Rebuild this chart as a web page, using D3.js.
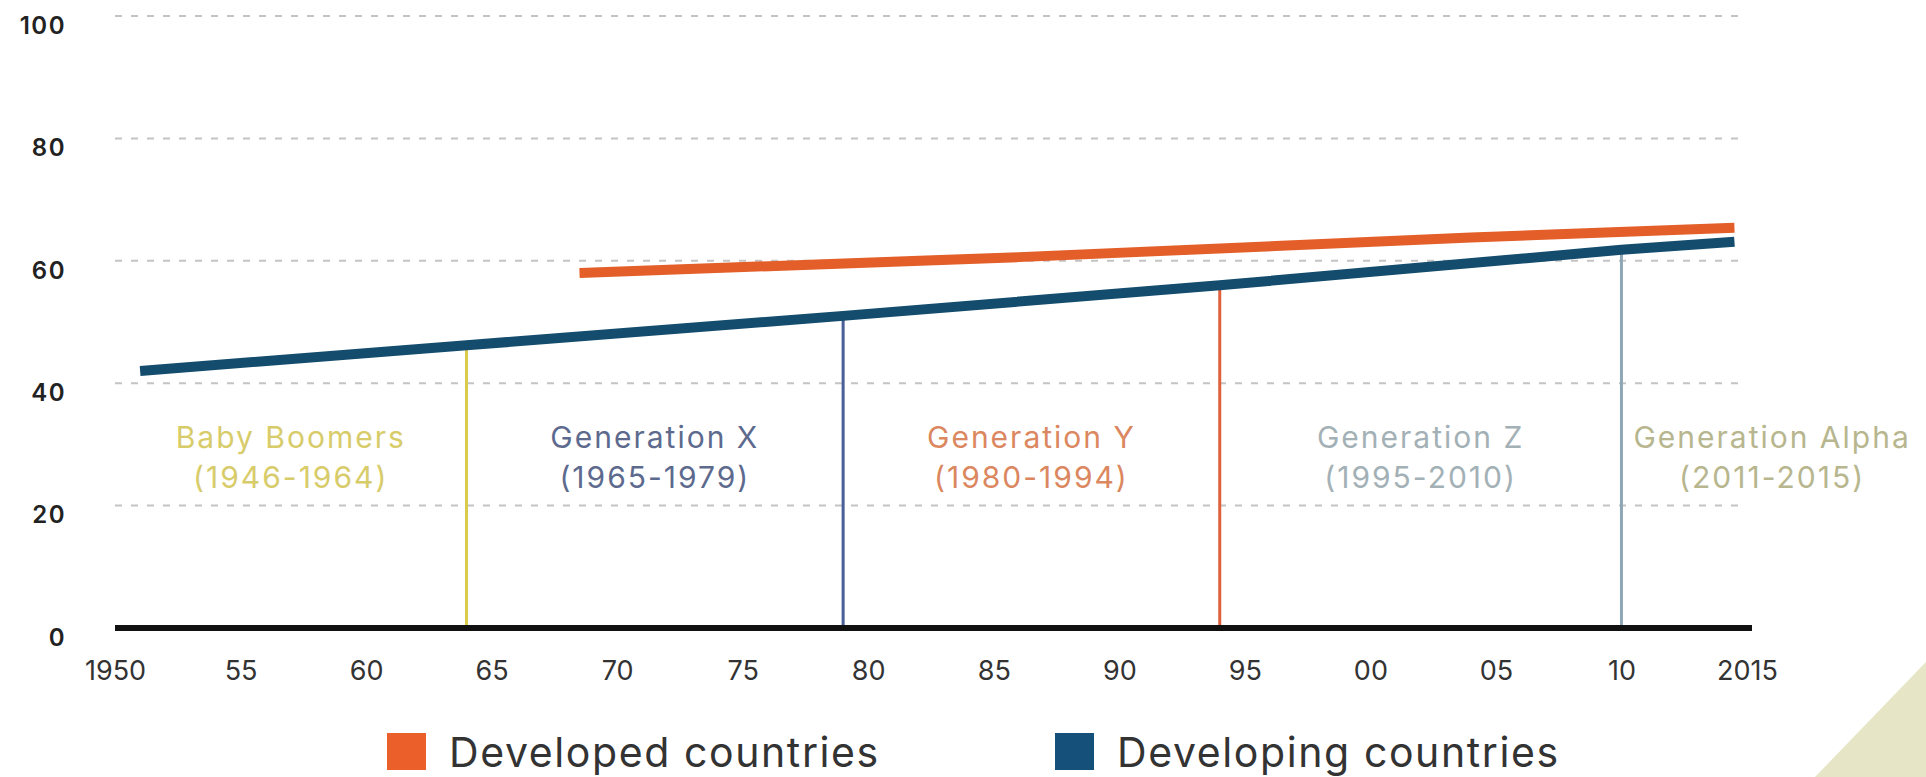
<!DOCTYPE html>
<html>
<head>
<meta charset="utf-8">
<script src="https://cdn.jsdelivr.net/npm/d3@7"></script>
<style>
  html, body { margin: 0; padding: 0; background: #fff; }
  svg { display: block; font-family: "Inter", "Lato", sans-serif; }
</style>
</head>
<body>
<div id="chart"></div>
<script>
// tick labels
const xTicks = [1950, 1955, 1960, 1965, 1970, 1975, 1980, 1985, 1990, 1995, 2000, 2005, 2010, 2015];
const xTickLabels = ["1950", "55", "60", "65", "70", "75", "80", "85", "90", "95", "00", "05", "10", "2015"];
const yTicks = [0, 20, 40, 60, 80, 100];

// series
const developedYears = [1968.5, 1986, 2004, 2014.5];
const developedValues = [58.0, 60.6, 63.8, 65.4];
const developingYears = [1951, 1964, 1979, 1994, 2010, 2014.5];
const developingValues = [42.0, 46.2, 51.0, 56.0, 61.8, 63.1];

// generations
const genNames = ["Baby Boomers", "Generation X", "Generation Y", "Generation Z", "Generation Alpha"];
const genRanges = ["(1946-1964)", "(1965-1979)", "(1980-1994)", "(1995-2010)", "(2011-2015)"];
const genLabelYears = [1957, 1971.5, 1986.5, 2002, 2016];
const genColors = ["#d8cc6a", "#5d6a8e", "#db8760", "#a3b1b6", "#b7b68e"];
// vertical boundary lines at each generation's last year, up to the developing line
const boundaryYears = [1964, 1979, 1994, 2010];
const boundaryTops = [46.2, 51.0, 56.0, 61.8];
const boundaryColors = ["#d9cb4c", "#4a5f98", "#e0603c", "#8ea7b7"];

const legendLabels = ["Developed countries", "Developing countries"];
const legendColors = ["#ea5f2a", "#14507a"];

const width = 1926, height = 777;

const svg = d3.select('#chart')
    .append('svg')
    .attr('width', width)
    .attr('height', height);

const x = d3.scaleLinear().domain([1950, 2015]).range([115, 1747]);
const y = d3.scaleLinear().domain([0, 100]).range([628, 16]);

// decorative corner
svg.append('path')
    .attr('d', `M${width - 111},${height} L${width},${height - 115} L${width},${height} Z`)
    .attr('fill', '#e6e6c6');

// dashed gridlines
svg.append('g')
    .selectAll('line')
    .data(yTicks.filter(d => d > 0))
    .join('line')
    .attr('x1', x(1950))
    .attr('x2', x(2015))
    .attr('y1', d => y(d))
    .attr('y2', d => y(d))
    .attr('stroke', '#c4c4c4')
    .attr('stroke-width', 2)
    .attr('stroke-dasharray', '7,9');

// y axis labels
const yAxis = svg.append('g')
    .attr('transform', `translate(66,0)`)
    .call(d3.axisLeft(y).tickValues(yTicks).tickSize(0).tickPadding(0));
yAxis.select('.domain').remove();
yAxis.selectAll('text')
    .attr('dy', '0.72em')
    .attr('font-size', 24)
    .attr('font-weight', 600)
    .attr('letter-spacing', 1.5)
    .attr('fill', '#222')
    .attr('font-family', 'Inter, Lato, sans-serif');

// x axis labels
const xAxis = svg.append('g')
    .attr('transform', `translate(0,${y(0)})`)
    .call(d3.axisBottom(x).tickValues(xTicks)
        .tickFormat((d, i) => xTickLabels[i]).tickSize(0).tickPadding(33));
xAxis.select('.domain').remove();
xAxis.selectAll('text')
    .attr('font-size', 27)
    .attr('fill', '#333')
    .attr('font-family', 'Inter, Lato, sans-serif');

// generation boundary lines
svg.append('g')
    .selectAll('line')
    .data(boundaryYears)
    .join('line')
    .attr('x1', d => x(d))
    .attr('x2', d => x(d))
    .attr('y1', y(0))
    .attr('y2', (d, i) => y(boundaryTops[i]))
    .attr('stroke', (d, i) => boundaryColors[i])
    .attr('stroke-width', 3);

// baseline
svg.append('line')
    .attr('x1', x(1950))
    .attr('x2', x(2015) + 5)
    .attr('y1', y(0))
    .attr('y2', y(0))
    .attr('stroke', '#111')
    .attr('stroke-width', 6);

// series lines
const line = d3.line().x(d => x(d[0])).y(d => y(d[1]));
svg.append('path')
    .datum(developingYears.map((d, i) => [d, developingValues[i]]))
    .attr('d', line)
    .attr('fill', 'none')
    .attr('stroke', '#134c6c')
    .attr('stroke-width', 10);
svg.append('path')
    .datum(developedYears.map((d, i) => [d, developedValues[i]]))
    .attr('d', line)
    .attr('fill', 'none')
    .attr('stroke', '#e35e28')
    .attr('stroke-width', 10);

// generation labels
const labels = svg.append('g')
    .selectAll('text')
    .data(genNames)
    .join('text')
    .attr('text-anchor', 'middle')
    .attr('font-size', 30)
    .attr('letter-spacing', 2)
    .attr('fill', (d, i) => genColors[i]);
labels.append('tspan')
    .attr('x', (d, i) => x(genLabelYears[i]))
    .attr('y', y(31.2) + 11)
    .text(d => d);
labels.append('tspan')
    .attr('x', (d, i) => x(genLabelYears[i]))
    .attr('y', y(24.7) + 11)
    .text((d, i) => genRanges[i]);

// legend
const legendX = [387, 1055];
const legend = svg.append('g')
    .selectAll('g')
    .data(legendLabels)
    .join('g')
    .attr('transform', (d, i) => `translate(${legendX[i]},733)`);
legend.append('rect')
    .attr('width', 39)
    .attr('height', 37)
    .attr('fill', (d, i) => legendColors[i]);
legend.append('text')
    .attr('x', 62)
    .attr('y', 34)
    .attr('font-size', 41)
    .attr('letter-spacing', 1.6)
    .attr('fill', '#333')
    .text(d => d);
</script>
</body>
</html>
